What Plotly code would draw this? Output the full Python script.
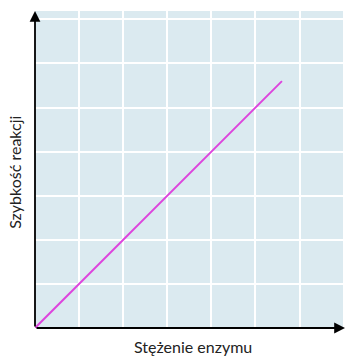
import plotly.graph_objects as go

# Data
enzyme_conc = [0, 5.6]
reaction_rate = [0, 5.6]
x_title = "Stężenie enzymu"
y_title = "Szybkość reakcji"
grid_vals = [1, 2, 3, 4, 5, 6, 7]

X_MAX = 7.03
Y_MAX = 7.19

fig = go.Figure()
fig.add_trace(go.Scatter(x=enzyme_conc, y=reaction_rate, mode="lines",
                         line=dict(color="#dd44dd", width=2), hoverinfo="skip"))

axis_common = dict(showgrid=True, gridcolor="white", gridwidth=1.5,
                   zeroline=False, showticklabels=False, ticks="",
                   showline=False, tickmode="array", tickvals=grid_vals, fixedrange=True)

fig.update_layout(
    width=347, height=356,
    margin=dict(l=35, r=2, t=11, b=28, autoexpand=False),
    paper_bgcolor="white", plot_bgcolor="#dbeaf0",
    showlegend=False,
    font=dict(family="Lato, Open Sans, sans-serif", size=16, color="#222222"),
    xaxis=dict(range=[0, X_MAX], **axis_common),
    yaxis=dict(range=[0, Y_MAX], **axis_common),
)

# Axes with arrows
fig.add_annotation(x=X_MAX, y=0, ax=0, ay=0, xref="x", yref="y", axref="x", ayref="y",
                   text="", showarrow=True, arrowhead=2, arrowsize=1.2, arrowwidth=1.8,
                   arrowcolor="black")
fig.add_annotation(x=0, y=Y_MAX, ax=0, ay=0, xref="x", yref="y", axref="x", ayref="y",
                   text="", showarrow=True, arrowhead=2, arrowsize=1.2, arrowwidth=1.8,
                   arrowcolor="black")

# Axis titles
fig.add_annotation(x=0.51, y=-0.022, xref="paper", yref="paper", text=x_title,
                   showarrow=False, xanchor="center", yanchor="top",
                   font=dict(size=16))
fig.add_annotation(x=-0.027, y=0.49, xref="paper", yref="paper", text=y_title,
                   showarrow=False, xanchor="right", yanchor="middle", textangle=-90,
                   font=dict(size=16))

fig.write_html("out.html", config={"displayModeBar": False},
               post_script="document.body.style.margin='0';document.body.style.overflow='hidden';")
